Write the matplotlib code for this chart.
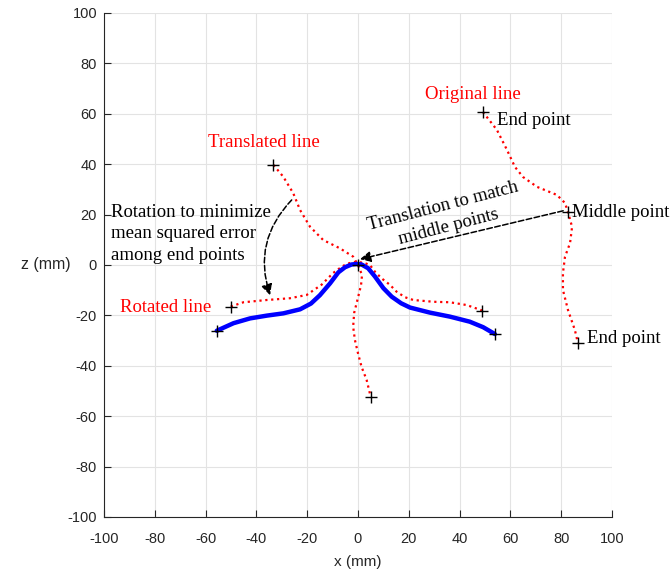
import matplotlib
matplotlib.use("Agg")
import matplotlib.pyplot as plt

plt.rcParams["axes.unicode_minus"] = False

# original line (x, z) in mm
orig_x = [49.2, 54.7, 58.7, 61.8, 65.0, 70.5, 78.3, 81.5, 82.7, 84.3, 83.5, 81.5, 80.7, 80.7, 82.7, 85.4, 86.6]
orig_z = [60.7, 53.6, 45.6, 38.9, 34.9, 31.0, 27.8, 24.6, 21.0, 15.1, 8.7, 3.2, -3.2, -9.9, -17.9, -25.8, -31.0]
orig_mid = (82.7, 21.0)

# translated line (middle point moved to origin)
trans_x = [-33.3, -29.4, -25.5, -22.8, -18.9, -13.7, -7.1, -1.9, 0.0, 1.6, 1.2, 0.0, -1.5, -1.9, -1.2, 0.0, 1.4, 3.4, 5.0]
trans_z = [39.7, 35.0, 28.5, 21.8, 15.2, 9.9, 6.6, 3.3, 0.0, -4.0, -8.0, -13.0, -19.0, -24.5, -29.8, -35.0, -40.4, -45.6, -52.3]

# rotated line
rot_x = [-50.1, -45.1, -35.9, -26.8, -20.2, -14.3, -9.8, -6.4, -4.5, -2.0, 0.0, 2.5, 4.7, 6.7, 9.3,
         12.6, 15.2, 18.5, 21.8, 29.7, 36.2, 42.8, 49.0]
rot_z = [-16.5, -14.8, -13.9, -13.2, -11.9, -7.8, -3.2, -0.7, 0.4, 1.1, 1.2, 0.8, 0.0, -2.7, -5.3,
         -7.9, -10.6, -12.8, -13.9, -14.6, -14.8, -15.9, -18.1]

# reference (blue) line
ref_x = [-55.6, -49.0, -42.5, -35.9, -29.4, -22.8, -18.5, -15.0, -11.0, -7.7, -5.1, -2.5, -0.5, 1.4,
         4.0, 6.7, 10.0, 13.3, 17.0, 20.5, 28.3, 36.2, 44.0, 49.3, 53.9]
ref_z = [-26.1, -23.1, -21.2, -20.1, -19.2, -17.6, -15.3, -12.0, -7.3, -2.9, -0.9, 0.2, 0.4, 0.2,
         -1.3, -4.6, -9.2, -12.6, -15.2, -16.9, -18.9, -20.5, -22.5, -24.7, -27.4]

ticks = list(range(-100, 101, 20))

serif = "Liberation Serif"
sans = "Liberation Sans"

fig = plt.figure(figsize=(6.71, 5.71), dpi=100)
ax = fig.add_axes([0.155, 0.0946, 0.757, 0.8827])

ax.plot(orig_x, orig_z, ":", color="red", lw=1.6)
ax.plot(trans_x, trans_z, ":", color="red", lw=1.6)
ax.plot(rot_x, rot_z, ":", color="red", lw=1.6)
ax.plot(ref_x, ref_z, "-", color="blue", lw=3.2, solid_capstyle="round", solid_joinstyle="round")

# end / middle point markers
mk = dict(marker="+", color="black", ms=9, mew=1.0, ls="none", zorder=5)
ax.plot([orig_x[0], orig_mid[0], orig_x[-1]], [orig_z[0], orig_mid[1], orig_z[-1]], **mk)
ax.plot([trans_x[0], 0, trans_x[-1]], [trans_z[0], 0, trans_z[-1]], **mk)
ax.plot([rot_x[0], rot_x[-1]], [rot_z[0], rot_z[-1]], **mk)
ax.plot([ref_x[0], ref_x[-1]], [ref_z[0], ref_z[-1]], **mk)

# arrows
ax.annotate("", xy=(0.8, 2.3), xytext=(80.8, 21.5),
            arrowprops=dict(arrowstyle="-|>", color="black", lw=1.1, ls="--",
                            mutation_scale=16, shrinkA=0, shrinkB=0), zorder=6)
ax.annotate("", xy=(-34.6, -12.0), xytext=(-26.1, 25.8),
            arrowprops=dict(arrowstyle="-|>", color="black", lw=1.1, ls="--",
                            mutation_scale=16, shrinkA=0, shrinkB=0,
                            connectionstyle="arc3,rad=0.3"), zorder=6)

fs = 13.5
ax.text(26.4, 67.5, "Original line", color="red", fontsize=fs, family=serif, va="center")
ax.text(54.7, 57.5, "End point", color="black", fontsize=fs, family=serif, va="center")
ax.text(84.3, 21.0, "Middle point", color="black", fontsize=fs, family=serif, va="center")
ax.text(90.2, -29.0, "End point", color="black", fontsize=fs, family=serif, va="center")
ax.text(-59.0, 48.4, "Translated line", color="red", fontsize=fs, family=serif, va="center")
ax.text(-93.7, -16.7, "Rotated line", color="red", fontsize=fs, family=serif, va="center")
ax.text(-97.2, 12.3, "Rotation to minimize\nmean squared error\namong end points",
        color="black", fontsize=fs, family=serif, va="center", ha="left", linespacing=1.37)
ax.text(34.4, 19.2, "Translation to match\nmiddle points", color="black", fontsize=fs,
        family=serif, ha="center", va="center", rotation=14.5, rotation_mode="anchor",
        multialignment="center", linespacing=1.37)

ax.set_xlim(-100, 100)
ax.set_ylim(-100, 100)
ax.set_xticks(ticks)
ax.set_yticks(ticks)
ax.grid(True, color="#e3e3e3", lw=0.8)
ax.set_axisbelow(True)
for s in ["top", "right"]:
    ax.spines[s].set_visible(False)
for s in ["left", "bottom"]:
    ax.spines[s].set_color("#262626")
    ax.spines[s].set_linewidth(0.8)
ax.tick_params(direction="in", length=5, width=0.8, color="#262626",
               labelsize=10.5, labelcolor="#262626")
ax.tick_params(axis="x", pad=11)
ax.tick_params(axis="y", pad=5)
for lab in ax.get_xticklabels() + ax.get_yticklabels():
    lab.set_family(sans)

ax.set_xlabel("x (mm)", fontsize=11, family=sans, color="#262626", labelpad=6)
ax.set_ylabel("z (mm)", fontsize=11.5, family=sans, color="#262626", rotation=0,
              va="center", ha="right")
ax.yaxis.set_label_coords(-0.065, 0.5)

fig.savefig("out.png", dpi=100)
